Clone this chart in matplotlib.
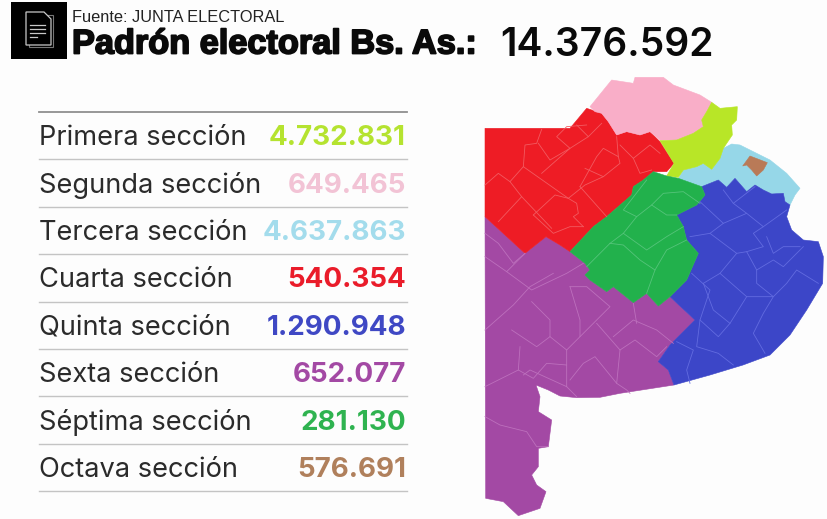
import matplotlib
matplotlib.use("Agg")
import matplotlib.pyplot as plt
from matplotlib.patches import Polygon, Rectangle
import matplotlib.patheffects as pe

secciones = ["Primera sección", "Segunda sección", "Tercera sección", "Cuarta sección",
             "Quinta sección", "Sexta sección", "Séptima sección", "Octava sección"]
padron = ["4.732.831", "649.465", "4.637.863", "540.354",
          "1.290.948", "652.077", "281.130", "576.691"]
colores_texto = ["#b5e330", "#f2c3d5", "#a3dcec", "#ea1c2a",
                 "#3f48c4", "#a349a4", "#2fb350", "#b0805c"]
total = "14.376.592"
fuente = "Fuente: JUNTA ELECTORAL"
titulo = "Padrón electoral Bs. As.:"

# Map outlines, traced in units of 1/3 px from the map's corner
segunda = [(360,110),(425,30),(490,40),(495,22),(580,22),(610,45),(650,60),(690,75),(725,97),(710,125),
           (695,150),(700,170),(670,190),(620,210),(570,210),(540,185),(510,195),(470,185),(440,195),
           (415,155),(395,130),(375,125)]
primera = [(725,97),(750,115),(802,110),(800,150),(785,165),(787,195),(760,235),(750,265),(725,298),
           (700,280),(680,290),(640,300),(625,322),(590,318),(612,280),(570,212),(620,210),(670,190),
           (700,170),(695,150),(710,125)]
tercera = [(625,325),(640,300),(680,290),(700,280),(725,298),(750,265),(760,235),(785,222),(810,225),
           (850,245),(900,270),(950,310),(990,355),(975,375),(960,405),(945,395),(940,370),(905,372),
           (880,360),(855,345),(830,365),(795,325),(770,352),(745,330),(695,350)]
octava = [(818,288),(840,258),(892,278),(880,300),(860,318),(845,300),(830,285)]
cuarta = [(45,175),(300,175),(350,115),(395,130),(415,155),(440,195),(470,185),(510,195),(540,185),
          (570,215),(612,280),(590,305),(550,305),(520,330),(490,350),(485,375),(410,440),(370,470),
          (300,545),(270,525),(228,500),(165,550),(45,440)]
septima = [(300,545),(370,470),(410,440),(485,375),(490,350),(520,330),(550,305),(590,318),(625,325),
           (695,350),(705,375),(680,405),(620,435),(640,470),(650,510),(685,550),(650,630),(600,680),
           (565,708),(530,670),(490,698),(430,650),(410,665),(360,630),(345,615),(360,600),(345,580)]
quinta = [(695,350),(745,330),(770,352),(795,325),(830,365),(855,345),(880,360),(905,372),(940,370),
          (945,395),(960,405),(950,440),(965,480),(1000,510),(1045,515),(1060,560),(1058,640),(1010,720),
          (960,795),(900,855),(819,885),(720,915),(612,945),(595,900),(565,875),(600,825),(625,800),
          (675,750),(600,680),(650,630),(685,550),(650,510),(640,470),(620,435),(680,405),(705,375)]
sexta = [(45,440),(165,550),(228,500),(270,525),(300,545),(345,580),(360,600),(345,615),(360,630),
         (410,665),(430,650),(490,698),(530,670),(565,708),(600,680),(675,750),(625,800),(600,825),
         (565,875),(595,900),(612,945),(450,970),(390,982),(320,983),(270,978),(235,960),(198,945),
         (210,980),(205,1025),(245,1050),(235,1130),(205,1135),(205,1190),(185,1215),(200,1245),
         (228,1265),(210,1315),(145,1337),(100,1295),(47,1285)]

lineas_cuarta = [[(45,345),(85,310),(120,335),(160,290),(295,385),(320,400),(325,430),(310,440),(340,470)],
                 [(120,335),(155,380),(85,455)],[(155,380),(245,475)],[(190,435),(255,375),(295,385)],
                 [(190,435),(250,490),(300,470),(340,470)],[(160,290),(165,225),(200,220),(215,178)],
                 [(205,220),(240,270),(300,235),(260,200),(290,170),(350,165)],[(215,310),(300,235),(355,200),(320,165)],
                 [(330,350),(380,260),(400,235),(445,260),(440,200)],[(345,295),(400,320),(450,280),(445,260)],
                 [(330,350),(410,440)],[(295,385),(345,345),(400,320)],[(450,225),(490,265),(540,225),(570,250)],
                 [(490,265),(510,310),(545,300)],[(355,200),(395,160)]]
lineas_septima = [[(420,520),(460,490),(530,540),(590,500),(640,470)],[(460,490),(500,440),(545,405),(580,370),(640,365),(690,400)],
                  [(500,440),(460,420),(530,330)],[(545,405),(590,435),(620,435)],[(420,520),(350,590)],
                  [(420,520),(460,525),(510,570),(555,600),(530,670)],[(555,600),(590,540),(650,510)]]
lineas_quinta = [[(690,395),(760,460),(720,490),(660,500)],[(760,460),(830,430),(790,400),(760,360)],
                 [(790,400),(855,350)],[(830,430),(880,470),(850,490),(880,530),(830,545)],[(880,470),(950,420)],
                 [(720,490),(800,550),(750,610),(700,640)],[(800,550),(830,545),(860,600),(910,570),(940,590),(1000,530)],
                 [(860,600),(860,640),(910,680),(950,640),(980,600),(1045,640)],[(750,610),(830,680),(780,760),(730,720),(700,640)],
                 [(830,680),(910,680),(880,730),(850,790),(885,850)],[(665,610),(720,660),(690,750),(745,800),(780,760)],
                 [(690,750),(680,830),(745,850),(790,885)],[(620,815),(670,840),(650,900),(660,940)],[(890,500),(910,550),(940,530),(990,530)]]
lineas_sexta = [[(45,490),(85,520),(130,580),(165,550)],[(45,560),(110,605),(165,550)],[(110,605),(185,660),(290,610),(340,580)],
                [(45,780),(130,705),(180,650),(250,610)],[(125,780),(200,830),(240,800),(240,750),(185,695)],
                [(240,800),(290,840),(400,730),(420,710),(350,650),(300,650)],[(300,650),(330,750),(330,800)],
                [(380,760),(450,840),(495,810),(560,860),(590,830)],[(430,800),(490,750),(560,780),(610,820)],
                [(490,700),(500,760)],[(150,830),(145,900),(45,950)],[(145,900),(190,925),(230,880),(290,885)],
                [(290,840),(290,950),(320,980)],[(450,840),(440,940),(470,960),(480,970)],[(440,940),(375,860),(340,880),(300,930)],
                [(45,1040),(90,1065),(170,1085),(200,1130),(235,1130)],[(160,915),(180,900),(290,950)]]

COL = {"seg": "#f9aec8", "pri": "#b8e627", "ter": "#96d7e8", "oct": "#b97a57",
       "cua": "#ee1c25", "sep": "#22b14c", "qui": "#3c46c8", "sex": "#a349a4"}

plt.rcParams["font.family"] = ["Inter", "Liberation Sans", "DejaVu Sans"]
fig = plt.figure(figsize=(8.28, 5.19), dpi=100, facecolor="#fdfdfd")
ax = fig.add_axes([0, 0, 1, 1])
ax.set_xlim(0, 828); ax.set_ylim(519, 0); ax.axis("off")

def m(pts):
    return [(470 + x / 3, 70 + y / 3) for x, y in pts]

# map
for pts, key in [(sexta, "sex"), (cuarta, "cua"), (segunda, "seg"), (tercera, "ter"),
                 (primera, "pri"), (quinta, "qui"), (septima, "sep"), (octava, "oct")]:
    ax.add_patch(Polygon(m(pts), closed=True, fc=COL[key], ec=COL[key], lw=0.4, zorder=2))
for grupo, color in [(lineas_cuarta, "#f25a60"), (lineas_septima, "#55c47a"),
                     (lineas_quinta, "#626be0"), (lineas_sexta, "#bd70bd")]:
    for linea in grupo:
        xs, ys = zip(*m(linea))
        ax.plot(xs, ys, color=color, lw=0.6, zorder=3)

# header
ax.add_patch(Rectangle((11, 2), 56, 57, fc="black", ec="none"))
ax.add_patch(Rectangle((29, 15), 24, 32, fc="none", ec="#777777", lw=0.8))
ax.add_patch(Polygon([(26, 12), (44, 12), (51, 19), (51, 45), (26, 45)], closed=True, fc="black", ec="#c8c8c8", lw=0.9))
for yy, x2 in [(25, 45), (29, 45), (33, 45), (37, 37)]:
    ax.plot([30, x2], [yy, yy], color="#c8c8c8", lw=0.9)
ax.text(72, 17, fuente, fontsize=11.8, color="#222222", va="center", ha="left", family=["Liberation Sans"])
ax.text(72, 45, titulo, fontsize=24.7, color="#0a0a0a", va="center", ha="left", weight="bold",
        family=["Liberation Sans"],
        path_effects=[pe.withStroke(linewidth=1.3, foreground="#0a0a0a")])
ax.text(500, 45, total, fontsize=28.1, color="#0a0a0a", va="center", ha="left", weight="semibold")

# table
top, paso = 112, 47.4
for i in range(9):
    y = top + i * paso
    ax.plot([39, 407], [y, y], color="#8f8f8f" if i == 0 else "#c4c4c4", lw=1.3 if i == 0 else 1.0)
for i, (s, v, c) in enumerate(zip(secciones, padron, colores_texto)):
    y = top + (i + 0.5) * paso + 2.5
    ax.text(39, y, s, fontsize=19.6, color="#2b2b2b", va="center", ha="left")
    ax.text(406, y, v, fontsize=20, color=c, va="center", ha="right", weight="bold")

fig.savefig("out.png", dpi=100, facecolor=fig.get_facecolor())
